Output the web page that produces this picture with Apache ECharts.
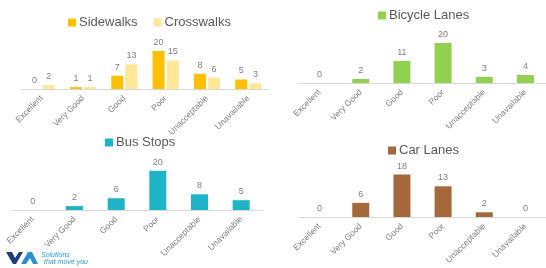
<!DOCTYPE html>
<html>
<head>
<meta charset="utf-8">
<script src="https://cdn.jsdelivr.net/npm/echarts@6/dist/echarts.min.js"></script>
<style>
  html, body { margin: 0; padding: 0; background: #fff; }
  #chart { width: 546px; height: 268px; }
</style>
</head>
<body>
<div id="chart"></div>
<script>
// categories shared by all four panels
var categories = ['Excellent', 'Very Good', 'Good', 'Poor', 'Unacceptable', 'Unavailable'];

var sidewalks = [0, 1, 7, 20, 8, 5];
var crosswalks = [2, 1, 13, 15, 6, 3];
var bicycleLanes = [0, 2, 11, 20, 3, 4];
var busStops = [0, 2, 6, 20, 8, 5];
var carLanes = [0, 6, 18, 13, 2, 0];

var font = 'Liberation Sans, Arial, sans-serif';
var axisGray = '#d9d9d9';
var textGray = '#7f7f7f';

// one grid per panel
var grids = [
  { left: 21, top: 41.5, width: 248, height: 47.5 },
  { left: 299, top: 33, width: 248, height: 50 },
  { left: 12, top: 161, width: 250, height: 49 },
  { left: 299, top: 169.8, width: 248, height: 47.2 }
];
var maxes = [25, 25, 25, 20];

function xAxisFor(i) {
  return {
    type: 'category',
    gridIndex: i,
    data: categories,
    axisLine: { lineStyle: { color: axisGray, width: 1 } },
    axisTick: { show: false },
    axisLabel: {
      rotate: 45,
      interval: 0,
      margin: 8,
      fontSize: 8.5,
      color: textGray,
      fontFamily: font
    }
  };
}
function yAxisFor(i) {
  return {
    type: 'value',
    gridIndex: i,
    min: 0,
    max: maxes[i],
    show: false,
    splitLine: { show: false }
  };
}

function barSeries(name, data, i, color, width) {
  return {
    name: name,
    type: 'bar',
    xAxisIndex: i,
    yAxisIndex: i,
    data: data,
    barWidth: width,
    barGap: '18%',
    itemStyle: { color: color },
    label: {
      show: true,
      position: 'top',
      distance: 4,
      fontSize: 9,
      color: textGray,
      fontFamily: font
    }
  };
}

function legendFor(names, left, top) {
  return {
    data: names,
    left: left,
    top: top,
    icon: 'rect',
    itemWidth: 8,
    itemHeight: 8,
    itemGap: 16,
    padding: 0,
    textStyle: { fontSize: 13, color: '#595959', fontFamily: font, padding: [0, 0, 0, -2] }
  };
}

var chart = echarts.init(document.getElementById('chart'), null, { renderer: 'canvas' });
chart.setOption({
  animation: false,
  backgroundColor: '#fff',
  grid: grids,
  xAxis: [xAxisFor(0), xAxisFor(1), xAxisFor(2), xAxisFor(3)],
  yAxis: [yAxisFor(0), yAxisFor(1), yAxisFor(2), yAxisFor(3)],
  legend: [
    legendFor(['Sidewalks', 'Crosswalks'], 68, 16),
    legendFor(['Bicycle Lanes'], 378, 9),
    legendFor(['Bus Stops'], 105, 136),
    legendFor(['Car Lanes'], 388, 144)
  ],
  series: [
    barSeries('Sidewalks', sidewalks, 0, '#ffc000', 12),
    barSeries('Crosswalks', crosswalks, 0, '#ffe699', 12),
    barSeries('Bicycle Lanes', bicycleLanes, 1, '#92d050', 17),
    barSeries('Bus Stops', busStops, 2, '#1fb3c8', 17),
    barSeries('Car Lanes', carLanes, 3, '#a5683b', 17)
  ],
  graphic: [
    // VTA logo, bottom left
    { type: 'polygon', shape: { points: [[6, 252], [12, 252], [15, 258], [19, 252], [23, 252], [16, 264], [13, 264]] }, style: { fill: '#1b3f7a' } },
    { type: 'polygon', shape: { points: [[21, 264], [28, 252], [32, 252], [38, 264], [33, 264], [30, 258], [26, 264]] }, style: { fill: '#2a8fd0' } },
    { type: 'text', left: 41, top: 252, style: { text: 'Solutions', fontSize: 7, fontStyle: 'italic', fill: '#2a9ad8', fontFamily: font } },
    { type: 'text', left: 44, top: 259, style: { text: 'that move you', fontSize: 7, fontStyle: 'italic', fill: '#2a9ad8', fontFamily: font } }
  ]
});
</script>
</body>
</html>
